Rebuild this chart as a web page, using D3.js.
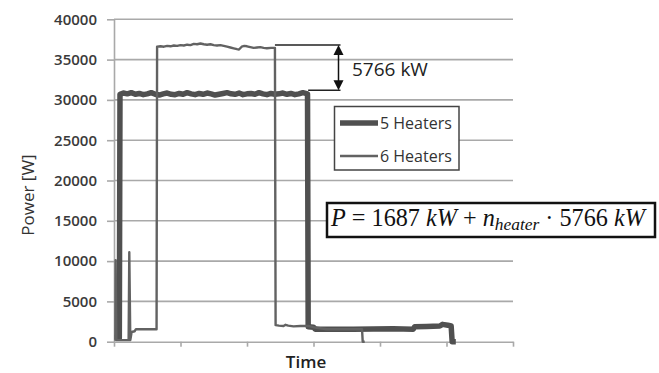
<!DOCTYPE html>
<html><head><meta charset="utf-8">
<script src="https://cdn.jsdelivr.net/npm/d3@7"></script>
<style>body{margin:0;background:#fff}svg{display:block}</style>
</head><body><svg id="c" width="659" height="373"></svg>
<script>
// ---- data ----
const yTicks = [0, 5000, 10000, 15000, 20000, 25000, 30000, 35000, 40000];
const xTicks = [0, 100, 200, 300, 400, 500, 600];
const seriesNames = ["5 Heaters", "6 Heaters"];
const fiveT = [1, 8, 9, 14, 20, 26, 32, 38, 44, 50, 56, 62, 68, 74, 80, 86, 92, 98, 104, 110, 116, 122, 128, 134, 140, 146, 152, 158, 164, 170, 176, 182, 188, 194, 200, 206, 212, 218, 224, 230, 236, 242, 248, 254, 260, 266, 272, 278, 284, 291,
  292, 300, 303, 360, 420, 450, 452, 470, 490, 494, 502, 507, 508.5, 514];
const fiveV = [500, 500, 30700, 30850, 30750, 30900, 30700, 30800, 30650, 30750, 30900, 30700, 30600, 30750, 30850, 30700, 30650, 30800, 30700, 30900, 30750, 30650, 30800, 30700, 30850, 30750, 30600, 30700, 30800, 30900, 30750, 30700, 30850, 30650, 30750, 30800, 30700, 30900, 30750, 30650, 30800, 30700, 30750, 30850, 30700, 30800, 30650, 30750, 30900, 30750,
  1850, 1800, 1550, 1550, 1600, 1550, 1850, 1900, 1950, 2150, 2050, 1950, 0, 0];
const sixT = [0.5, 2, 2.5, 3.5, 22, 23, 24.5, 26.5, 31, 33, 64, 64.8, 70, 75, 80, 85, 90, 95, 100, 105, 110, 115, 120, 125, 130, 135, 140, 145, 150, 155, 160, 165, 170, 175, 180, 185, 188, 192, 196, 200, 205, 210, 215, 220, 225, 230, 236, 242,
  243, 248, 255, 258, 262, 270, 280, 292, 300, 320, 373, 374, 377];
const sixV = [300, 300, 10100, 200, 200, 11100, 200, 1200, 1300, 1550, 1550, 36600, 36650, 36600, 36700, 36650, 36750, 36700, 36800, 36750, 36850, 36800, 36950, 36900, 37000, 36900, 36850, 36900, 36800, 36750, 36800, 36700, 36600, 36500, 36400, 36300, 36250, 36600, 36700, 36650, 36550, 36450, 36500, 36550, 36450, 36400, 36450, 36450,
  2050, 2000, 1950, 2100, 2000, 1900, 1950, 1950, 1800, 1550, 1550, 0, 0];
const deltaLabel = "5766 kW";
const deltaTop = 36800, deltaBottom = 31200;
const yTitle = "Power [W]", xTitle = "Time";

// ---- chart ----
const svg = d3.select("#c");
const x = d3.scaleLinear().domain([0, 600]).range([114, 513]);
const y = d3.scaleLinear().domain([0, 40000]).range([341.7, 19.3]);
const GRID = "#a9a9a9";

svg.append("g").selectAll("line").data(yTicks.filter(d => d > 0)).join("line")
  .attr("x1", x(0)).attr("x2", x(600)).attr("y1", d => y(d)).attr("y2", d => y(d))
  .attr("stroke", GRID).attr("stroke-width", 1.6);

const ya = svg.append("g").attr("transform", `translate(${x(0)},0)`)
  .call(d3.axisLeft(y).tickValues(yTicks).tickSize(7).tickSizeOuter(0).tickPadding(10).tickFormat(d3.format("d")));
ya.select(".domain").attr("stroke", GRID).attr("stroke-width", 1.6);
ya.selectAll(".tick line").attr("stroke", GRID).attr("stroke-width", 1.6);
ya.selectAll(".tick text").attr("font-family", "Open Sans").attr("font-size", 15).attr("font-weight", 600).attr("fill", "#3a3a3a");

const xa = svg.append("g").attr("transform", `translate(0,${y(0)})`)
  .call(d3.axisBottom(x).tickValues(xTicks).tickSize(5).tickSizeOuter(0).tickFormat(""));
xa.select(".domain").attr("stroke", GRID).attr("stroke-width", 1.6);
xa.selectAll(".tick line").attr("stroke", GRID).attr("stroke-width", 1.6);

const line = d3.line().x(d => x(d[0])).y(d => y(d[1]));
svg.append("path").datum(d3.zip(fiveT, fiveV)).attr("d", line)
  .attr("fill", "none").attr("stroke", "#505050").attr("stroke-width", 5.5).attr("stroke-linejoin", "round");
svg.append("path").datum(d3.zip(sixT, sixV)).attr("d", line)
  .attr("fill", "none").attr("stroke", "#626262").attr("stroke-width", 2.4).attr("stroke-linejoin", "round");

// annotation
const ax = 338.5;
svg.append("line").attr("x1", x(242)).attr("x2", ax + 2).attr("y1", y(deltaTop)).attr("y2", y(deltaTop)).attr("stroke", "#222").attr("stroke-width", 1.5);
svg.append("line").attr("x1", x(292)).attr("x2", ax + 2).attr("y1", y(deltaBottom)).attr("y2", y(deltaBottom)).attr("stroke", "#222").attr("stroke-width", 1.5);
svg.append("line").attr("x1", ax).attr("x2", ax).attr("y1", y(deltaTop) + 5).attr("y2", y(deltaBottom) - 5).attr("stroke", "#111").attr("stroke-width", 1.5);
const t1 = y(deltaTop), t2 = y(deltaBottom);
svg.append("path").attr("d", `M${ax},${t1}L${ax - 5},${t1 + 10}L${ax + 5},${t1 + 10}Z`).attr("fill", "#111");
svg.append("path").attr("d", `M${ax},${t2}L${ax - 5},${t2 - 10}L${ax + 5},${t2 - 10}Z`).attr("fill", "#111");
svg.append("text").attr("x", 352).attr("y", 76).text(deltaLabel)
  .attr("font-family", "Open Sans").attr("font-size", 19).attr("fill", "#222");

// legend
const lg = svg.append("g");
lg.append("rect").attr("x", 334.5).attr("y", 106.5).attr("width", 124.5).attr("height", 63.5)
  .attr("fill", "#fff").attr("stroke", "#444").attr("stroke-width", 1.5);
[[123, 5.5, "#505050"], [156, 2.4, "#626262"]].forEach((s, i) => {
  lg.append("line").attr("x1", 340).attr("x2", 378).attr("y1", s[0]).attr("y2", s[0]).attr("stroke", s[2]).attr("stroke-width", s[1]);
  lg.append("text").attr("x", 380).attr("y", s[0] + 6).text(seriesNames[i])
    .attr("font-family", "Open Sans").attr("font-size", 16).attr("fill", "#333");
});

// formula
svg.append("rect").attr("x", 327).attr("y", 203).attr("width", 328).attr("height", 34)
  .attr("fill", "#fff").attr("stroke", "#111").attr("stroke-width", 2.5);
const ft = svg.append("text").attr("x", 331).attr("y", 226).attr("font-family", "Liberation Serif").attr("font-size", 21).attr("fill", "#111");
const parts = [["P", "italic", 0, 1], [" = 1687 ", "normal", 0, 1], ["kW", "italic", 0, 1], [" + ", "normal", 0, 1], ["n", "italic", 0, 1],
  ["heater", "italic", 4, 0.72], [" \u00B7 5766 ", "normal", -4, 1], ["kW", "italic", 0, 1]];
parts.forEach(p => {
  const ts = ft.append("tspan").text(p[0]).attr("font-style", p[1]).attr("dy", p[2]);
  if (p[3] !== 1) ts.attr("font-size", 21 * p[3]);
});
const w = ft.node().getComputedTextLength();
const fs = 21 * 314 / w;
ft.attr("font-size", fs);
ft.selectAll("tspan").filter((d, i) => parts[i][3] !== 1).attr("font-size", fs * 0.72);

// axis titles
svg.append("text").attr("transform", "translate(34,195) rotate(-90)").attr("text-anchor", "middle").text(yTitle)
  .attr("font-family", "Open Sans").attr("font-size", 17).attr("fill", "#333");
svg.append("text").attr("x", 306).attr("y", 368).attr("text-anchor", "middle").text(xTitle)
  .attr("font-family", "Open Sans").attr("font-size", 17).attr("font-weight", 600).attr("fill", "#222");
</script></body></html>
